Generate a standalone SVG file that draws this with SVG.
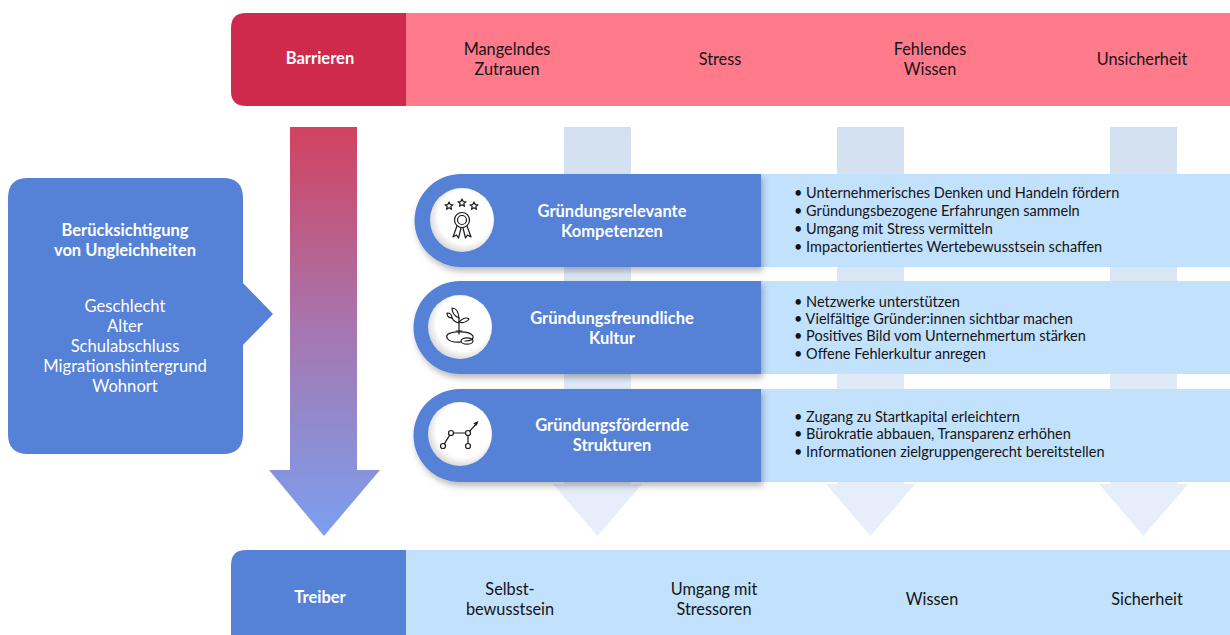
<svg xmlns="http://www.w3.org/2000/svg" width="1230" height="635" viewBox="0 0 1230 635">
<defs>
<style>
text{font-family:Lato,"Open Sans","Liberation Sans",sans-serif}
.w{fill:#ffffff;font-weight:bold;font-size:16.5px;text-anchor:middle}
.wl{fill:#ffffff;font-size:16.6px;text-anchor:middle}
.d{fill:#141414;font-size:16.3px;text-anchor:middle}
.b{fill:#141414;font-size:14.5px}
.ic{fill:none;stroke:#1a1a1a;stroke-width:1.2;stroke-linecap:round;stroke-linejoin:round}
</style>
<linearGradient id="mainG" x1="0" y1="127" x2="0" y2="536" gradientUnits="userSpaceOnUse">
<stop offset="0" stop-color="#d2425f"/>
<stop offset="0.5" stop-color="#a677b0"/>
<stop offset="1" stop-color="#7b9ff0"/>
</linearGradient>
<linearGradient id="faintG" x1="0" y1="127" x2="0" y2="536" gradientUnits="userSpaceOnUse">
<stop offset="0" stop-color="#d3e0ef"/>
<stop offset="1" stop-color="#e8effc"/>
</linearGradient>
<radialGradient id="circG" cx="0.55" cy="0.45" r="0.6">
<stop offset="0.7" stop-color="#ffffff"/>
<stop offset="1" stop-color="#cfcfcf"/>
</radialGradient>
<filter id="sh" x="-10%" y="-20%" width="130%" height="150%">
<feDropShadow dx="2" dy="4" stdDeviation="3" flood-color="#000" flood-opacity="0.28"/>
</filter>
</defs>
<rect width="1230" height="635" fill="#ffffff"/>

<g id="connectors">
<g id="faint-arrows" fill="url(#faintG)">
<rect x="564" y="127" width="67" height="358"/>
<polygon points="553,484 642,484 597.5,536"/>
<rect x="837" y="127" width="67" height="358"/>
<polygon points="826,484 915,484 870.5,536"/>
<rect x="1110" y="127" width="67" height="358"/>
<polygon points="1099,484 1188,484 1143.5,536"/>
</g>
<g id="main-arrow" fill="url(#mainG)">
<polygon points="290,127 357,127 357,470 380,470 324,536 269,470 290,470"/>
</g>
</g>

<g id="barrieren">
<path d="M406,13 H1230 V106 H406 Z" fill="#ff7b8c"/>
<path d="M246,13 H406 V106 H246 Q231,106 231,91 V28 Q231,13 246,13 Z" fill="#cf2a4c"/>
<text class="w" x="320" y="64">Barrieren</text>
<text class="d" x="507" y="55">Mangelndes</text>
<text class="d" x="507" y="75">Zutrauen</text>
<text class="d" x="720" y="65">Stress</text>
<text class="d" x="930" y="55">Fehlendes</text>
<text class="d" x="930" y="75">Wissen</text>
<text class="d" x="1142" y="65">Unsicherheit</text>
</g>

<g id="treiber">
<path d="M406,550 H1230 V635 H406 Z" fill="#c2e1fd"/>
<path d="M246,550 H406 V635 H231 V565 Q231,550 246,550 Z" fill="#5581d6"/>
<text class="w" x="320" y="603">Treiber</text>
<text class="d" x="510" y="595">Selbst-</text>
<text class="d" x="510" y="615">bewusstsein</text>
<text class="d" x="714" y="595">Umgang mit</text>
<text class="d" x="714" y="615">Stressoren</text>
<text class="d" x="932" y="605">Wissen</text>
<text class="d" x="1147" y="605">Sicherheit</text>
</g>

<g id="ungleichheiten">
<path d="M28,178 H223 Q243,178 243,198 V283 L273,314 L243,345 V434 Q243,454 223,454 H28 Q8,454 8,434 V198 Q8,178 28,178 Z" fill="#5581d6"/>
<text class="w" x="125" y="236">Berücksichtigung</text>
<text class="w" x="125" y="256">von Ungleichheiten</text>
<text class="wl" x="125" y="312">Geschlecht</text>
<text class="wl" x="125" y="332">Alter</text>
<text class="wl" x="125" y="352">Schulabschluss</text>
<text class="wl" x="125" y="372">Migrationshintergrund</text>
<text class="wl" x="125" y="392">Wohnort</text>
</g>

<g id="kompetenzen">
<rect x="740" y="174" width="490" height="93" fill="#c2e1fd"/>
<path d="M461,174 H761 V267 H461 A46.5,46.5 0 0 1 461,174 Z" fill="#5581d6" filter="url(#sh)"/>
<circle cx="462" cy="220" r="32" fill="url(#circG)"/>
<g class="ic">
<polygon points="449,202 450.2,204.6 453,204.8 450.8,206.6 451.5,209.3 449,207.8 446.5,209.3 447.2,206.6 445,204.8 447.8,204.6"/>
<polygon points="462,199 463.2,201.6 466,201.8 463.8,203.6 464.5,206.3 462,204.8 459.5,206.3 460.2,203.6 458,201.8 460.8,201.6"/>
<polygon points="474,202 475.2,204.6 478,204.8 475.8,206.6 476.5,209.3 474,207.8 471.5,209.3 472.2,206.6 470,204.8 472.8,204.6"/>
<circle cx="462" cy="220" r="7.5"/>
<circle cx="462" cy="220" r="4.5"/>
<path d="M457,226 L453,237 L456.5,235 L458.5,238 L461,228"/>
<path d="M467,226 L471,237 L467.5,235 L465.5,238 L463,228"/>
</g>
<text class="w" x="612" y="217">Gründungsrelevante</text>
<text class="w" x="612" y="237">Kompetenzen</text>
<g class="b">
<text x="794" y="198">• Unternehmerisches Denken und Handeln fördern</text>
<text x="794" y="216">• Gründungsbezogene Erfahrungen sammeln</text>
<text x="794" y="234">• Umgang mit Stress vermitteln</text>
<text x="794" y="252">• Impactorientiertes Wertebewusstsein schaffen</text>
</g>
</g>

<g id="kultur">
<rect x="740" y="281" width="490" height="93" fill="#c2e1fd"/>
<path d="M460,281 H761 V374 H460 A46.5,46.5 0 0 1 460,281 Z" fill="#5581d6" filter="url(#sh)"/>
<circle cx="460" cy="327" r="32" fill="url(#circG)"/>
<g class="ic">
<path d="M459,334 V318 M459,323 Q454,322 452,318"/>
<path d="M459,318 Q452,315 452,308 Q458,308 459,318 Z"/>
<path d="M459,322 Q465,316 469,319 Q465,324 459,322 Z"/>
<path d="M452,318 Q447,318 447,313 Q452,313 452,318 Z"/>
<path d="M456,331 H462"/>
<path d="M447,338 Q445,333 456,332 Q470,331 473,336 Q474,341 465,341 M461,342 Q450,343 447,338"/>
<ellipse cx="467" cy="341" rx="6" ry="3.2"/>
</g>
<text class="w" x="612" y="324">Gründungsfreundliche</text>
<text class="w" x="612" y="344">Kultur</text>
<g class="b">
<text x="794" y="307">• Netzwerke unterstützen</text>
<text x="794" y="324">• Vielfältige Gründer:innen sichtbar machen</text>
<text x="794" y="341">• Positives Bild vom Unternehmertum stärken</text>
<text x="794" y="359">• Offene Fehlerkultur anregen</text>
</g>
</g>

<g id="strukturen">
<rect x="740" y="389" width="490" height="93" fill="#c2e1fd"/>
<path d="M460,389 H761 V482 H460 A46.5,46.5 0 0 1 460,389 Z" fill="#5581d6" filter="url(#sh)"/>
<circle cx="460" cy="434" r="32" fill="url(#circG)"/>
<g class="ic">
<circle cx="443" cy="446" r="2.5"/>
<circle cx="451" cy="433" r="2.5"/>
<circle cx="468" cy="433" r="2.5"/>
<circle cx="468" cy="446" r="2.5"/>
<path d="M444.3,443.9 L449.7,435.1 M453.5,433 H465.5 M468,435.5 V443.5 M469.8,431.2 L477,423"/>
</g>
<path d="M478.5,421 L473.5,423.2 L476.5,425.8 Z" fill="#1a1a1a"/>
<text class="w" x="612" y="431">Gründungsfördernde</text>
<text class="w" x="612" y="451">Strukturen</text>
<g class="b">
<text x="794" y="422">• Zugang zu Startkapital erleichtern</text>
<text x="794" y="439">• Bürokratie abbauen, Transparenz erhöhen</text>
<text x="794" y="457">• Informationen zielgruppengerecht bereitstellen</text>
</g>
</g>
</svg>
